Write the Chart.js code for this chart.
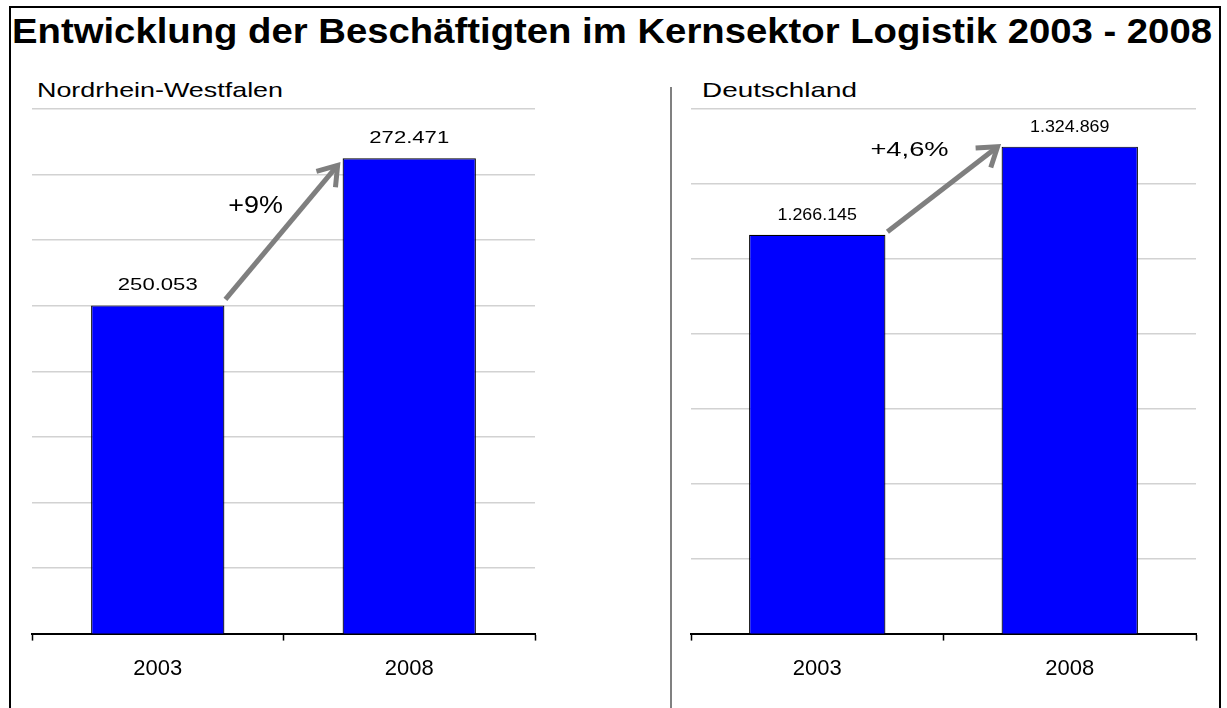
<!DOCTYPE html>
<html>
<head>
<meta charset="utf-8">
<script src="https://cdn.jsdelivr.net/npm/chart.js@4.4.1/dist/chart.umd.min.js"></script>
<style>
    html, body { margin: 0; padding: 0; background: #fff; overflow: hidden; }
    body { width: 1227px; height: 708px; position: relative; font-family: "Liberation Sans", Arial, Helvetica, sans-serif; }
    #rahmen { position: absolute; left: 9px; top: 6px; width: 1208px; height: 760px; border: 2px solid #000; border-bottom: none; }
    #titel { position: absolute; left: 12px; top: 13px; font-size: 35px; line-height: 35px; font-weight: bold; white-space: nowrap; color: #000; transform-origin: 0 0; }
    .untertitel { position: absolute; top: 79px; font-size: 21px; line-height: 21px; color: #000; white-space: nowrap; transform-origin: 0 0; }
    #trenner { position: absolute; left: 670px; top: 87px; width: 1.5px; height: 640px; background: #808080; }
    canvas { position: absolute; }
</style>
</head>
<body>
<div id="rahmen"></div>
<div id="titel" data-breite="1200">Entwicklung der Beschäftigten im Kernsektor Logistik 2003 - 2008</div>
<div class="untertitel" style="left:37px" data-breite="246">Nordrhein-Westfalen</div>
<div class="untertitel" style="left:702px" data-breite="155">Deutschland</div>
<div id="trenner"></div>
<div style="position:absolute;left:10px;top:60px;width:540px;height:648px"><canvas id="grafikNRW"></canvas></div>
<div style="position:absolute;left:672px;top:60px;width:546px;height:648px"><canvas id="grafikDE"></canvas></div>
<script>
const jahre = ["2003", "2008"];
const werteNRW = [250053, 272471];
const werteDE = [1266145, 1324869];
const zuwachsNRW = "+9%";
const zuwachsDE = "+4,6%";

const schrift = "'Liberation Sans', Arial, Helvetica, sans-serif";

// Überschriften auf die Breite im Original strecken
document.querySelectorAll('[data-breite]').forEach(el => {
    el.style.display = 'inline-block';
    const w = el.getBoundingClientRect().width;
    el.style.transform = `scaleX(${parseFloat(el.dataset.breite) / w})`;
});

function gestreckt(ctx, text, x, y, faktor) {
    ctx.save();
    ctx.translate(x, y);
    ctx.scale(faktor, 1);
    ctx.fillText(text, 0, 0);
    ctx.restore();
}

// Werte über den Balken + Pfeil mit Prozentangabe
const beschriftung = {
    id: 'beschriftung',
    afterDatasetsDraw(chart, args, opts) {
        const ctx = chart.ctx;
        const meta = chart.getDatasetMeta(0);
        const werte = chart.data.datasets[0].data;
        ctx.save();
        ctx.fillStyle = '#000';
        ctx.font = opts.wertSchrift + 'px ' + schrift;
        ctx.textAlign = 'center';
        ctx.textBaseline = 'alphabetic';
        meta.data.forEach((bar, i) => {
            gestreckt(ctx, werte[i].toLocaleString('de-DE'), bar.x, bar.y - 15, opts.wertStreckung);
        });

        const b0 = meta.data[0], b1 = meta.data[1];
        const x1 = b0.x + b0.width / 2 + opts.start[0];
        const y1 = b0.y + opts.start[1];
        const x2 = b1.x - b1.width / 2 + opts.ende[0];
        const y2 = b1.y + opts.ende[1];
        ctx.strokeStyle = '#7f7f7f';
        ctx.lineWidth = 5;
        ctx.lineCap = 'butt';
        ctx.lineJoin = 'miter';
        ctx.beginPath();
        ctx.moveTo(x1, y1);
        ctx.lineTo(x2, y2);
        ctx.stroke();
        const w = Math.atan2(y2 - y1, x2 - x1);
        const len = 22, spreiz = 0.6;
        ctx.beginPath();
        ctx.moveTo(x2 - len * Math.cos(w - spreiz), y2 - len * Math.sin(w - spreiz));
        ctx.lineTo(x2, y2);
        ctx.lineTo(x2 - len * Math.cos(w + spreiz), y2 - len * Math.sin(w + spreiz));
        ctx.stroke();

        ctx.font = opts.textSchrift + 'px ' + schrift;
        ctx.textBaseline = 'middle';
        gestreckt(ctx, opts.text, (x1 + x2) / 2 + opts.textPos[0], (y1 + y2) / 2 + opts.textPos[1], opts.textStreckung);
        ctx.restore();
    }
};

function baueGrafik(id, werte, yMin, yMax, schritt, balken, pfeil, polster) {
    return new Chart(document.getElementById(id), {
        type: 'bar',
        data: {
            labels: jahre,
            datasets: [{
                data: werte,
                backgroundColor: '#0000ff',
                borderColor: '#000',
                borderWidth: 1.2,
                barPercentage: balken,
                categoryPercentage: 1
            }]
        },
        options: {
            responsive: true,
            maintainAspectRatio: false,
            animation: false,
            layout: { padding: polster },
            scales: {
                x: {
                    offset: true,
                    grid: { display: true, drawOnChartArea: false, drawTicks: true, tickLength: 7, tickColor: '#000', tickWidth: 1.5, offset: true },
                    border: { display: true, color: '#000', width: 2 },
                    ticks: { color: '#000', padding: 15, font: { size: 22, family: schrift } }
                },
                y: {
                    min: yMin,
                    max: yMax,
                    ticks: { display: false, stepSize: schritt },
                    grid: { color: '#d2d2d2', lineWidth: 1.5, drawTicks: false },
                    border: { display: false }
                }
            },
            plugins: {
                legend: { display: false },
                tooltip: { enabled: false },
                beschriftung: pfeil
            }
        },
        plugins: [beschriftung]
    });
}

baueGrafik('grafikNRW', werteNRW, 200000, 280000, 10000, 0.53,
    { start: [1, -6], ende: [-5, 7], text: zuwachsNRW, textPos: [-26, -26], textSchrift: 23, textStreckung: 1.17, wertSchrift: 17, wertStreckung: 1.3 },
    { left: 22, right: 15, top: 49, bottom: 11 });
baueGrafik('grafikDE', werteDE, 1000000, 1350000, 50000, 0.54,
    { start: [2, -3], ende: [-4, 0], text: zuwachsDE, textPos: [-33, -39], textSchrift: 21, textStreckung: 1.3, wertSchrift: 17, wertStreckung: 1.05 },
    { left: 19, right: 22, top: 49, bottom: 11 });
</script>
</body>
</html>
